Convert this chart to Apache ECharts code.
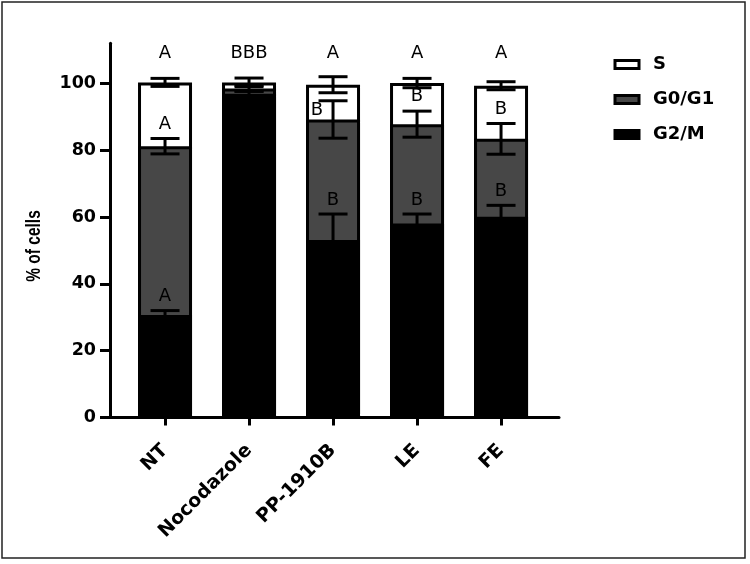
<!DOCTYPE html>
<html>
<head>
<meta charset="utf-8">
<script src="https://cdn.jsdelivr.net/npm/echarts@6/dist/echarts.min.js"></script>
<style>
html,body{margin:0;padding:0;background:#fff;}
#chart{width:750px;height:564px;}
</style>
</head>
<body>
<div id="chart"></div>
<script>
// ---- data ----
const categories = ['NT', 'Nocodazole', 'PP-1910B', 'LE', 'FE'];
const g2mValues  = [30.7, 96.9, 53.1, 58.1, 60.1];   // G2/M segment (%)
const g0g1Values = [50.5, 1.6, 36.1, 29.7, 23.3];    // G0/G1 segment (%)
const sValues    = [19.1, 1.8, 10.4, 12.3, 15.9];    // S segment (%)
const g2mErr     = [1.3, 0.8, 7.8, 2.8, 3.4];
const g0g1Err    = [2.3, 0.9, 5.6, 3.9, 4.6];
const sErr       = [1.2, 1.3, 2.4, 1.4, 1.2];
const topLetters  = ['A', 'BBB', 'A', 'A', 'A'];
const g0g1Letters = ['A', '', 'B', 'B', 'B'];
const g2mLetters  = ['A', '', 'B', 'B', 'B'];
const yTicks = [0, 20, 40, 60, 80, 100];
const topLetterLevel = 109;

// ---- derived (cumulative tops of the stacked segments) ----
const xIdx = categories.map((c, i) => i);
const cumG2m  = g2mValues.slice();
const cumG0g1 = g2mValues.map((v, i) => v + g0g1Values[i]);
const cumS    = cumG0g1.map((v, i) => v + sValues[i]);

const FONT = 'DejaVu Sans';

function errSeries(cum, err) {
  return {
    type: 'custom', z: 5, silent: true,
    data: xIdx.map(i => [i, cum[i], err[i]]),
    encode: { x: 0, y: 1 },
    renderItem: function (params, api) {
      const x = api.value(0), y = api.value(1), e = api.value(2);
      const t = api.coord([x, y + e]), b = api.coord([x, y - e]);
      const h = 14.5, st = { stroke: '#000', lineWidth: 3 };
      return { type: 'group', children: [
        { type: 'line', shape: { x1: t[0], y1: t[1], x2: b[0], y2: b[1] }, style: st },
        { type: 'line', shape: { x1: t[0] - h, y1: t[1], x2: t[0] + h, y2: t[1] }, style: st },
        { type: 'line', shape: { x1: b[0] - h, y1: b[1], x2: b[0] + h, y2: b[1] }, style: st }
      ]};
    }
  };
}

// letters: anchored at a value, shifted in pixels
function letterSeries(items, dy, shifts) {
  return {
    type: 'custom', z: 6, silent: true,
    data: items.map(it => [it.i, it.v]),
    encode: { x: 0, y: 1 },
    renderItem: function (params, api) {
      const it = items[params.dataIndex];
      const p = api.coord([api.value(0), api.value(1)]);
      const s = (shifts && shifts[categories[it.i]]) || [0, -dy];
      return { type: 'text', x: p[0] + s[0], y: p[1] + s[1],
        style: { text: it.t, fill: '#000', fontSize: 18, fontFamily: FONT,
                 align: 'center', verticalAlign: 'middle' } };
    }
  };
}

const topItems = xIdx.filter(i => topLetters[i]).map(i => ({ i: i, v: topLetterLevel, t: topLetters[i] }));
const g0g1Items = xIdx.filter(i => g0g1Letters[i]).map(i => ({ i: i, v: cumG0g1[i] + g0g1Err[i], t: g0g1Letters[i] }));
const g2mItems = xIdx.filter(i => g2mLetters[i]).map(i => ({ i: i, v: cumG2m[i] + g2mErr[i], t: g2mLetters[i] }));

const chart = echarts.init(document.getElementById('chart'));
chart.setOption({
  animation: false,
  backgroundColor: '#fff',
  grid: { left: 110, top: 43.3, width: 449, height: 374.2 },
  xAxis: {
    type: 'value', min: -0.655, max: 4.69,
    splitLine: { show: false },
    axisLine: { show: true, onZero: false, lineStyle: { color: '#000', width: 3 } },
    axisTick: { show: true, customValues: xIdx, length: 8, lineStyle: { color: '#000', width: 3 } },
    axisLabel: {
      customValues: xIdx, rotate: 45, margin: 30,
      formatter: v => categories[Math.round(v)],
      color: '#000', fontFamily: FONT, fontWeight: 'bold', fontSize: 19
    }
  },
  yAxis: {
    type: 'value', min: 0, max: 112,
    splitLine: { show: false },
    axisLine: { show: true, onZero: false, lineStyle: { color: '#000', width: 3 } },
    axisTick: { show: true, customValues: yTicks, length: 10, lineStyle: { color: '#000', width: 3 } },
    axisLabel: { customValues: yTicks, margin: 14, color: '#000', fontFamily: FONT, fontWeight: 'bold', fontSize: 17.5 }
  },
  legend: {
    orient: 'vertical', left: 608.5, top: 50.5,
    itemWidth: 24, itemHeight: 8, itemGap: 17, icon: 'rect',
    textStyle: { color: '#000', fontFamily: FONT, fontWeight: 'bold', fontSize: 18, padding: [0, 0, 0, 9] },
    data: [
      { name: 'S', itemStyle: { color: '#fff', borderColor: '#000', borderWidth: 3 } },
      { name: 'G0/G1', itemStyle: { color: '#474747', borderColor: '#000', borderWidth: 3 } },
      { name: 'G2/M', itemStyle: { color: '#000', borderColor: '#000', borderWidth: 3 } }
    ]
  },
  graphic: [
    { type: 'rect', shape: { x: 2, y: 2, width: 743, height: 556 }, style: { fill: 'none', stroke: '#222', lineWidth: 1.5 }, silent: true },
    { type: 'text', x: 35, y: 246, rotation: Math.PI / 2, scaleY: 1.25,
      style: { text: '% of cells', fill: '#000', fontFamily: 'Liberation Sans', fontWeight: 'bold', fontSize: 15.5,
               align: 'center', verticalAlign: 'middle' }, silent: true }
  ],
  series: [
    // stacked segments drawn as cumulative tops, front-most segment last
    { type: 'bar', name: 'S', barWidth: 54, barGap: '-100%', z: 2,
      data: xIdx.map(i => [i, cumS[i]]),
      itemStyle: { color: '#fff', borderColor: '#000', borderWidth: 3 } },
    { type: 'bar', name: 'G0/G1', barWidth: 54, barGap: '-100%', z: 3,
      data: xIdx.map(i => [i, cumG0g1[i]]),
      itemStyle: { color: '#474747', borderColor: '#000', borderWidth: 3 } },
    { type: 'bar', name: 'G2/M', barWidth: 54, barGap: '-100%', z: 4,
      data: xIdx.map(i => [i, cumG2m[i]]),
      itemStyle: { color: '#000', borderColor: '#000', borderWidth: 3 } },
    errSeries(cumG2m, g2mErr),
    errSeries(cumG0g1, g0g1Err),
    errSeries(cumS, sErr),
    letterSeries(topItems, 0),
    letterSeries(g0g1Items, 14.5, { 'PP-1910B': [-16, 10] }),
    letterSeries(g2mItems, 14)
  ]
});
</script>
</body>
</html>
